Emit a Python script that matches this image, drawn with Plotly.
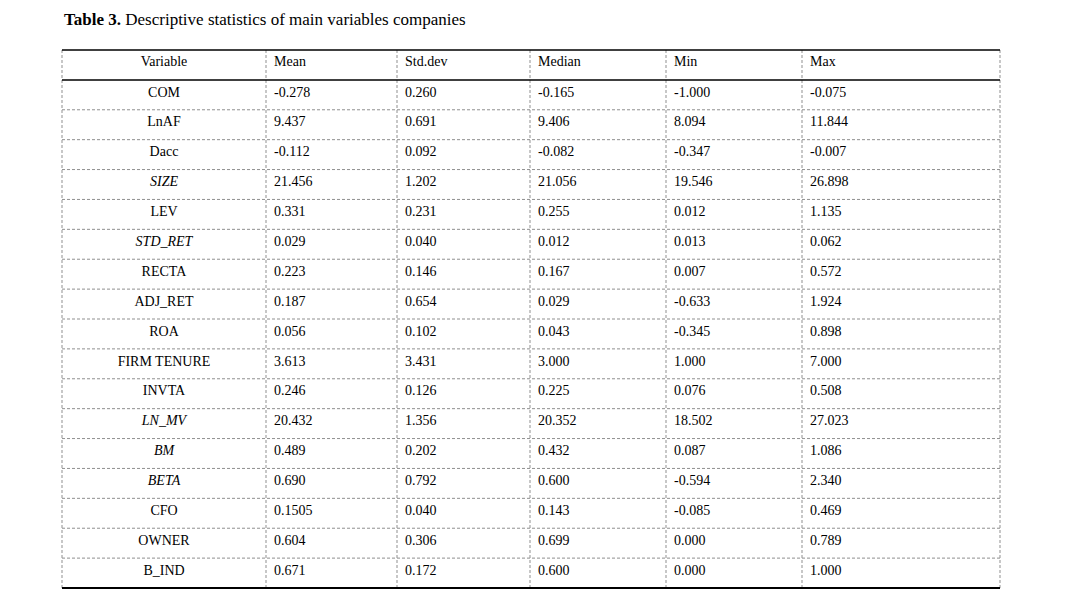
import plotly.graph_objects as go

# table content
variables = ["COM", "LnAF", "Dacc", "SIZE", "LEV", "STD_RET", "RECTA", "ADJ_RET", "ROA",
             "FIRM TENURE", "INVTA", "LN_MV", "BM", "BETA", "CFO", "OWNER", "B_IND"]
italic_vars = ["SIZE", "STD_RET", "LN_MV", "BM", "BETA"]
headers = ["Variable", "Mean", "Std.dev", "Median", "Min", "Max"]

mean = ["-0.278", "9.437", "-0.112", "21.456", "0.331", "0.029", "0.223", "0.187", "0.056",
        "3.613", "0.246", "20.432", "0.489", "0.690", "0.1505", "0.604", "0.671"]
std_dev = ["0.260", "0.691", "0.092", "1.202", "0.231", "0.040", "0.146", "0.654", "0.102",
           "3.431", "0.126", "1.356", "0.202", "0.792", "0.040", "0.306", "0.172"]
median = ["-0.165", "9.406", "-0.082", "21.056", "0.255", "0.012", "0.167", "0.029", "0.043",
          "3.000", "0.225", "20.352", "0.432", "0.600", "0.143", "0.699", "0.600"]
min_val = ["-1.000", "8.094", "-0.347", "19.546", "0.012", "0.013", "0.007", "-0.633", "-0.345",
           "1.000", "0.076", "18.502", "0.087", "-0.594", "-0.085", "0.000", "0.000"]
max_val = ["-0.075", "11.844", "-0.007", "26.898", "1.135", "0.062", "0.572", "1.924", "0.898",
           "7.000", "0.508", "27.023", "1.086", "2.340", "0.469", "0.789", "1.000"]

# the page body adds an 8px margin, so everything is placed 8px up/left
W, H = 1061, 604
FONT = "Liberation Serif"
col_edges = [54, 258, 389, 522, 658, 794, 992]
top_px, bottom_px = 42, 580
n_rows = len(variables)
row_px = (bottom_px - top_px) / (n_rows + 1)

# y axis in row units: header at -1, data rows 0..n-1
y_top = -1.5
y_bottom = n_rows - 0.5
y_min = y_top - top_px / row_px
y_max = y_bottom + (H - bottom_px) / row_px

rows = list(range(n_rows))
fig = go.Figure()

# variable column (centered)
var_text = ["<i>%s</i>" % v if v in italic_vars else v for v in variables]
fig.add_trace(go.Scatter(
    x=[(col_edges[0] + col_edges[1]) / 2] * (n_rows + 1),
    y=[-1.08] + [r - 0.06 for r in rows],
    text=[headers[0]] + var_text,
    mode="text", textposition="middle center",
    textfont=dict(family=FONT, size=14, color="black"),
    hoverinfo="skip", showlegend=False,
))

# numeric columns (left aligned)
for i, col in enumerate([mean, std_dev, median, min_val, max_val]):
    fig.add_trace(go.Scatter(
        x=[col_edges[i + 1] + 8] * (n_rows + 1),
        y=[-1.08] + [r - 0.06 for r in rows],
        text=[headers[i + 1]] + col,
        mode="text", textposition="middle right",
        textfont=dict(family=FONT, size=14, color="black"),
        hoverinfo="skip", showlegend=False,
    ))

shapes = []
# dashed row separators
for r in rows[:-1]:
    shapes.append(dict(type="line", xref="x", yref="y", x0=col_edges[0], x1=col_edges[-1],
                       y0=r + 0.5, y1=r + 0.5, line=dict(color="#8f8f8f", width=1, dash="3px,2px")))
# dashed column separators
for x in col_edges:
    shapes.append(dict(type="line", xref="x", yref="y", x0=x, x1=x, y0=y_top, y1=y_bottom,
                       line=dict(color="#8f8f8f", width=1, dash="3px,2px")))
# solid rules
for y, w in [(y_top, 1.5), (-0.5, 1.5), (y_bottom, 2)]:
    shapes.append(dict(type="line", xref="x", yref="y", x0=col_edges[0], x1=col_edges[-1],
                       y0=y, y1=y, line=dict(color="black", width=w)))

fig.update_layout(
    width=W, height=H,
    margin=dict(l=0, r=0, t=0, b=0),
    paper_bgcolor="white", plot_bgcolor="white",
    xaxis=dict(range=[0, W], visible=False, fixedrange=True),
    yaxis=dict(range=[y_max, y_min], visible=False, fixedrange=True),
    shapes=shapes,
    annotations=[dict(
        xref="paper", yref="paper", x=54 / W, y=1 - 12 / H, xanchor="left", yanchor="middle",
        text="<b>Table 3.</b> Descriptive statistics of main variables companies",
        showarrow=False, font=dict(family=FONT, size=17, color="black"),
    )],
)

fig.write_html("out.html")
